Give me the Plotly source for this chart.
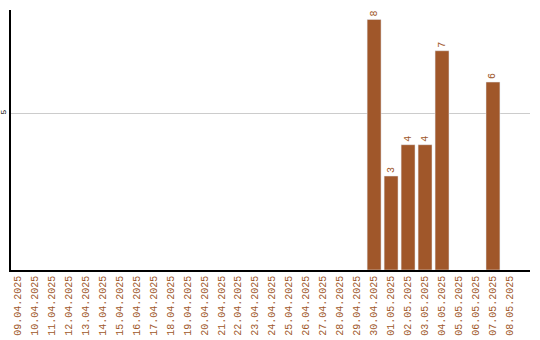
import plotly.graph_objects as go

dates = ["09.04.2025","10.04.2025","11.04.2025","12.04.2025","13.04.2025","14.04.2025",
         "15.04.2025","16.04.2025","17.04.2025","18.04.2025","19.04.2025","20.04.2025",
         "21.04.2025","22.04.2025","23.04.2025","24.04.2025","25.04.2025","26.04.2025",
         "27.04.2025","28.04.2025","29.04.2025","30.04.2025","01.05.2025","02.05.2025",
         "03.05.2025","04.05.2025","05.05.2025","06.05.2025","07.05.2025","08.05.2025"]
counts = [None]*21 + [8, 3, 4, 4, 7, None, None, 6, None]

color = "#a0572a"
texts = [str(v) if v is not None else "" for v in counts]

fig = go.Figure(go.Bar(
    x=list(range(len(dates))), y=counts, marker_color=color, width=0.82,
    text=texts, textposition="outside", textangle=-90,
    textfont=dict(family="Liberation Mono", size=10, color=color),
    cliponaxis=False,
))
fig.update_layout(
    width=540, height=340, margin=dict(l=10.5, r=10, t=10, b=70),
    plot_bgcolor="white", paper_bgcolor="white", showlegend=False,
    xaxis=dict(range=[-0.38, 30.18], tickmode="array", tickvals=list(range(len(dates))),
               ticktext=dates, tickangle=-90, showgrid=False, showline=True,
               linecolor="black", linewidth=1.5, ticks="", automargin=False,
               tickfont=dict(family="Liberation Mono", size=10, color=color)),
    yaxis=dict(range=[0, 8.3], tickvals=[5], showgrid=True, gridcolor="#cccccc",
               showline=True, linecolor="black", linewidth=1.5, ticks="", zeroline=False,
               automargin=False, ticklabelstandoff=0,
               tickangle=-90, tickfont=dict(family="Liberation Mono", size=8, color="black")),
)
fig.write_html("out.html")
